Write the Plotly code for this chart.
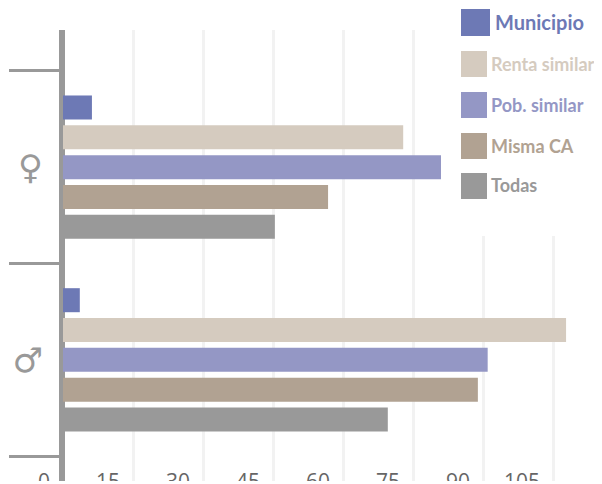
import plotly.graph_objects as go

categories = ["♂", "♀"]
series_names = ["Todas", "Misma CA", "Pob. similar", "Renta similar", "Municipio"]
series_colors = ["#999999", "#b1a292", "#9497c5", "#d5cbbf", "#6d79b5"]
series_values = [
    [69.6, 45.4],
    [88.9, 56.8],
    [91.0, 81.0],
    [107.8, 72.9],
    [3.6, 6.2],
]
x_ticks = [0, 15, 30, 45, 60, 75, 90, 105]

OFF = 8  # page margin around the figure
W, H = 602 - OFF, 481 - OFF
L = 63 - OFF
T = 30 - OFF

fig = go.Figure()
for name, color, vals in zip(series_names, series_colors, series_values):
    fig.add_trace(go.Bar(y=categories, x=vals, name=name, orientation="h",
                         marker=dict(color=color, line=dict(width=0))))

def px(x):
    return (x - OFF - L) / (W - L)

def py(y):
    return (H - (y - OFF)) / (H - T)

shapes = [
    dict(type="rect", xref="paper", yref="paper", layer="above",
         x0=px(450), x1=1, y0=py(236), y1=1.1, fillcolor="white", line=dict(width=0)),
    dict(type="rect", xref="paper", yref="paper", layer="below",
         x0=px(59), x1=px(65), y0=0, y1=1, fillcolor="#999999", line=dict(width=0)),
]
annotations = []
legend_items = [
    ("Municipio", "#6d79b5", 461, 9, 29, 27, 495, 22, 20),
    ("Renta similar", "#d5cbbf", 461, 51, 26, 26, 491, 64, 18),
    ("Pob. similar", "#9497c5", 461, 92, 26, 26, 491, 105, 18),
    ("Misma CA", "#b1a292", 461, 133, 26, 26, 491, 146, 18),
    ("Todas", "#999999", 461, 173, 26, 26, 491, 185, 18),
]
for text, col, x, y, w, h, tx, ty, fs in legend_items:
    shapes.append(dict(type="rect", xref="paper", yref="paper", layer="above",
                       x0=px(x), x1=px(x + w), y0=py(y + h), y1=py(y),
                       fillcolor=col, line=dict(width=0)))
    annotations.append(dict(text=f"<b>{text}</b>", xref="paper", yref="paper", showarrow=False,
                            x=px(tx - 2), y=py(ty), xanchor="left", yanchor="middle",
                            font=dict(family="Lato", size=fs, color=col)))

fig.update_layout(
    width=W, height=H, barmode="group", bargap=0.226, bargroupgap=0.195,
    margin=dict(l=L, r=0, t=T, b=0, autoexpand=False),
    paper_bgcolor="white", plot_bgcolor="white", showlegend=False,
    shapes=shapes, annotations=annotations,
    xaxis=dict(range=[0, 115.5], tickvals=x_ticks, showgrid=True, gridcolor="#f2f2f2",
               gridwidth=3, zeroline=False, showline=False, ticks="",
               ticklabelposition="outside left", ticklabelshift=-13, ticklabelstandoff=-14,
               tickfont=dict(family="Open Sans", size=21, color="#666666")),
    yaxis=dict(type="category", categoryorder="array", categoryarray=categories,
               range=[-0.6286, 1.7117], tickson="boundaries", ticks="outside", ticklen=53,
               tickwidth=3, tickcolor="#999999", showline=False,
               showgrid=False, zeroline=False, ticklabelstandoff=19,
               tickfont=dict(family="DejaVu Sans", size=34, color="#999999")),
)
fig.write_html("out.html")
